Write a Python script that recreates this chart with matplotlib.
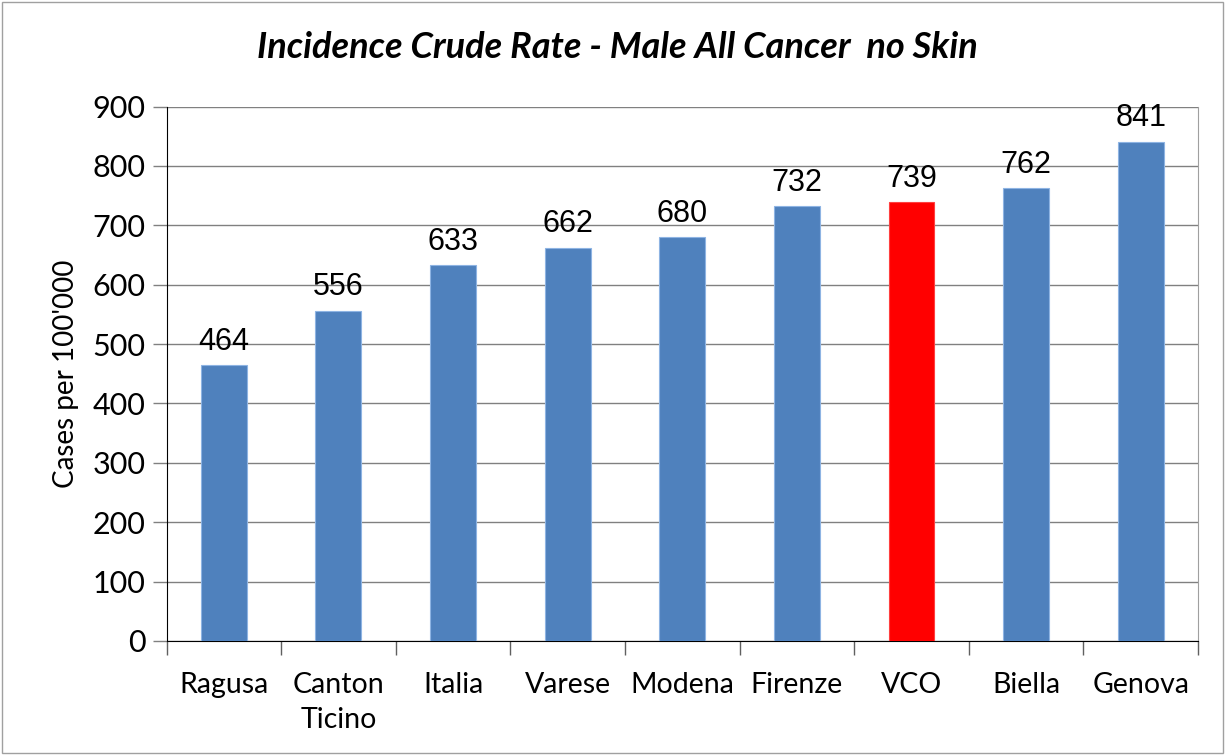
import matplotlib.pyplot as plt
from matplotlib.patches import Rectangle

# data
regions = ["Ragusa", "Canton\nTicino", "Italia", "Varese", "Modena", "Firenze", "VCO", "Biella", "Genova"]
rates = [464, 556, 633, 662, 680, 732, 739, 762, 841]
highlight = "VCO"

blue = "#4F81BD"
red = "#FF0000"
colors = [red if r == highlight else blue for r in regions]

fig = plt.figure(figsize=(12.25, 7.55), dpi=100)
ax = fig.add_axes([166.5 / 1225, 1 - 641 / 755, (1198 - 166.5) / 1225, (641 - 106.5) / 755])

x = list(range(len(regions)))
ax.bar(x, rates, width=0.4, color=colors, edgecolor=["#FF4040" if c == red else "#8EB4E3" for c in colors],
       linewidth=0.8, zorder=3)

for xi, v in zip(x, rates):
    ax.text(xi, v + 26, str(v), ha="center", va="baseline", fontsize=22,
            family="Liberation Sans", zorder=4)

ax.set_xlim(-0.5, len(regions) - 0.5)
ax.set_ylim(0, 900)
ax.set_yticks(range(0, 901, 100))
ax.yaxis.grid(True, color="#808080", linewidth=1, zorder=0)
ax.set_xticks(x)
ax.set_xticklabels(regions, fontsize=20.5, family="Lato", linespacing=1.45)
ax.tick_params(axis="x", which="major", length=0, pad=22)
ax.set_xticks([i - 0.5 for i in range(len(regions) + 1)], minor=True)
ax.tick_params(axis="x", which="minor", length=10, width=1, color="#606060")
ax.tick_params(axis="y", length=10, width=1, color="#808080", labelsize=22, pad=5)
for lab in ax.get_yticklabels():
    lab.set_family("Lato")

ax.spines["top"].set_visible(False)
ax.spines["right"].set_color("#A0A0A0")
ax.spines["left"].set_color("black")
ax.spines["bottom"].set_color("black")

ax.set_ylabel("Cases per 100'000", fontsize=20, family="Lato", labelpad=10)

fig.text(617 / 1225, 1 - 48 / 755, "Incidence Crude Rate - Male All Cancer  no Skin",
         ha="center", va="center", fontsize=26, fontweight="bold", fontstyle="italic",
         family="Lato")

fig.patches.append(Rectangle((0.002, 0.003), 0.996, 0.994, transform=fig.transFigure,
                             fill=False, edgecolor="#A0A0A0", linewidth=1))

fig.savefig("out.png", dpi=100)
